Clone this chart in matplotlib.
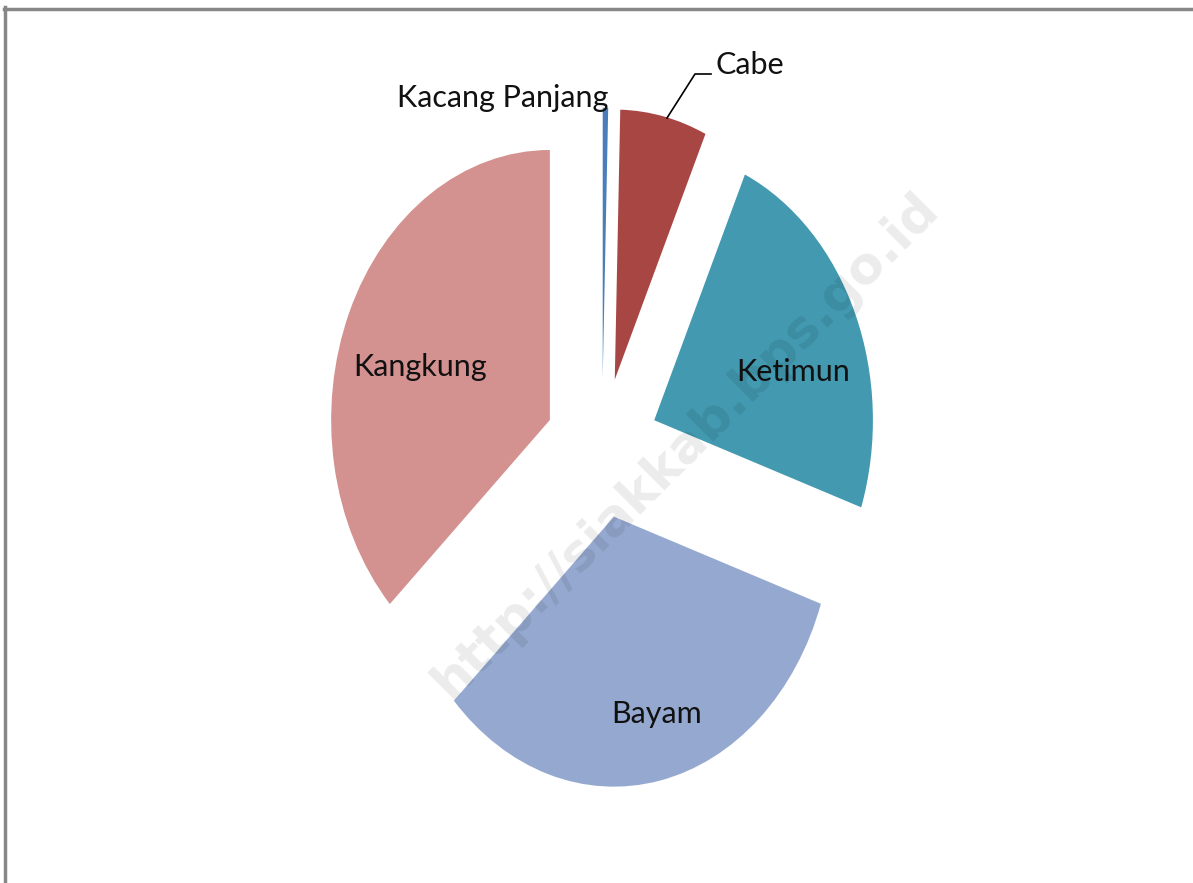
import matplotlib
matplotlib.use("Agg")
import matplotlib.pyplot as plt
from matplotlib.lines import Line2D

# data (share of harvest)
labels = ["Kacang Panjang", "Cabe", "Ketimun", "Bayam", "Kangkung"]
values = [0.4, 6.4, 23.4, 32.8, 36.9]
colors = ["#4A7EBB", "#A84644", "#4299B0", "#95A9D0", "#D39190"]
explode = [0.26, 0.26, 0.26, 0.26, 0.26]

# layout in pixels
W, H = 1193, 883
cx, cy = 602, 448        # pie centre
ry = 270.0               # vertical radius
rx = ry * 0.81           # horizontal radius (pie is squashed)


def px2data(px, py):
    return (px - cx) / rx, (cy - py) / ry


fig = plt.figure(figsize=(W / 100, H / 100), dpi=100)
ax = fig.add_axes([0, 0, 1, 1])

wedges, _ = ax.pie(values, colors=colors, explode=explode, startangle=90,
                   counterclock=False, radius=1.0,
                   wedgeprops=dict(linewidth=0))

ax.set_aspect("auto")
ax.set_xlim(px2data(0, 0)[0], px2data(W, 0)[0])
ax.set_ylim(px2data(0, H)[1], px2data(0, 0)[1])
ax.axis("off")

# labels
font = dict(family=["Lato", "DejaVu Sans"], fontsize=22, color="#111111")
lab_pos = {
    "Kacang Panjang": (503, 98),
    "Kangkung": (420, 367),
    "Ketimun": (793, 372),
    "Bayam": (657, 714),
}
for name, (px, py) in lab_pos.items():
    x, y = px2data(px, py)
    ax.text(x, y, name, ha="center", va="center", **font)

# Cabe label with leader line
x0, y0 = px2data(667, 118)
x1, y1 = px2data(695, 74)
x2, y2 = px2data(711, 74)
ax.plot([x0, x1, x2], [y0, y1, y2], color="black", lw=1.2)
tx, ty = px2data(715, 65)
ax.text(tx, ty, "Cabe", ha="left", va="center", **font)

# watermark
wx, wy = px2data(686, 445)
ax.text(wx, wy, "http://siakkab.bps.go.id", rotation=45, ha="center",
        va="center", fontsize=37, fontweight="bold", family="DejaVu Sans",
        color="black", alpha=0.08)

# chart area border (top and left only visible)
fig.add_artist(Line2D([4 / W, 1], [1 - 8.5 / H, 1 - 8.5 / H],
                      transform=fig.transFigure, color="#878787", lw=2.5))
fig.add_artist(Line2D([5.5 / W, 5.5 / W], [0, 1 - 7 / H],
                      transform=fig.transFigure, color="#878787", lw=2.5))

fig.savefig("out.png", dpi=100, facecolor="white")
